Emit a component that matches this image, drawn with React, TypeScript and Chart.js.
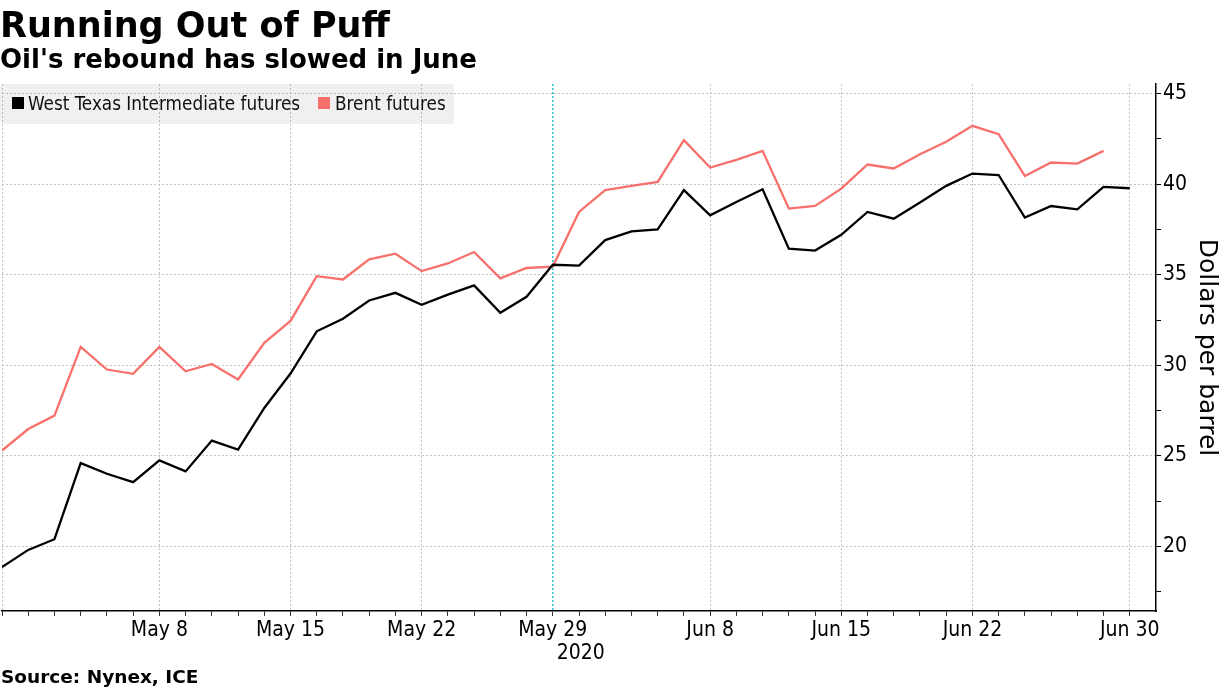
import React, { useEffect, useRef } from 'react';
import { Chart, registerables } from 'chart.js';

Chart.register(...registerables);

const dates = [
  'Apr 30', 'May 1', 'May 4', 'May 5', 'May 6', 'May 7', 'May 8',
  'May 11', 'May 12', 'May 13', 'May 14', 'May 15',
  'May 18', 'May 19', 'May 20', 'May 21', 'May 22',
  'May 25', 'May 26', 'May 27', 'May 28', 'May 29',
  'Jun 1', 'Jun 2', 'Jun 3', 'Jun 4', 'Jun 5',
  'Jun 8', 'Jun 9', 'Jun 10', 'Jun 11', 'Jun 12',
  'Jun 15', 'Jun 16', 'Jun 17', 'Jun 18', 'Jun 19',
  'Jun 22', 'Jun 23', 'Jun 24', 'Jun 25', 'Jun 26',
  'Jun 29', 'Jun 30',
];

const wti = [
  18.87, 19.82, 20.41, 24.61, 24.02, 23.56, 24.76,
  24.15, 25.85, 25.35, 27.65, 29.55,
  31.88, 32.57, 33.58, 34.0, 33.34,
  33.9, 34.41, 32.9, 33.78, 35.55,
  35.5, 36.91, 37.39, 37.5, 39.67,
  38.28, 39.01, 39.71, 36.44, 36.33,
  37.2, 38.46, 38.09, 38.98, 39.9,
  40.58, 40.5, 38.15, 38.79, 38.61,
  39.84, 39.77,
];

const brent = [
  25.3, 26.49, 27.23, 31.02, 29.77, 29.53, 31.02,
  29.67, 30.08, 29.22, 31.24, 32.45,
  34.92, 34.74, 35.85, 36.16, 35.2,
  35.62, 36.25, 34.8, 35.37, 35.45,
  38.46, 39.67, 39.9, 40.12, 42.42,
  40.91, 41.33, 41.83, 38.65, 38.79,
  39.75, 41.08, 40.86, 41.65, 42.33,
  43.21, 42.75, 40.45, 41.19, 41.13,
  41.83, null,
];

const tickDates = ['May 8', 'May 15', 'May 22', 'May 29', 'Jun 8', 'Jun 15', 'Jun 22', 'Jun 30'];
const gridDates = ['Apr 30', ...tickDates];
const markerDate = 'May 29';
const yearLabel = '2020';
const yTicks = [17.5, 20, 22.5, 25, 27.5, 30, 32.5, 35, 37.5, 40, 42.5, 45];

const TICK_FONT = 'DejaVu Sans Condensed';

export default function App() {
  const ref = useRef<HTMLCanvasElement>(null);

  useEffect(() => {
    document.body.style.margin = '0';
    const canvas = ref.current;
    if (!canvas) return;
    const markerIndex = dates.indexOf(markerDate);

    const overlay = {
      id: 'overlay',
      beforeDatasetsDraw(chart: any) {
        const { ctx, chartArea, scales } = chart;
        const px = scales.x.getPixelForValue(markerIndex);
        ctx.save();
        ctx.strokeStyle = '#27c9d2';
        ctx.lineWidth = 1.5;
        ctx.setLineDash([2, 2]);
        ctx.beginPath();
        ctx.moveTo(px, chartArea.top);
        ctx.lineTo(px, chartArea.bottom);
        ctx.stroke();
        ctx.restore();
      },
      afterDraw(chart: any) {
        const { ctx, chartArea, scales } = chart;
        const px = scales.x.getPixelForValue(markerIndex);
        ctx.save();
        ctx.fillStyle = '#000';
        ctx.font = `21px "${TICK_FONT}"`;
        ctx.textAlign = 'left';
        ctx.textBaseline = 'alphabetic';
        ctx.fillText(yearLabel, px + 4, chartArea.bottom + 48);
        ctx.restore();
      },
    };

    const chart = new Chart(canvas, {
      type: 'line',
      data: {
        datasets: [
          {
            label: 'West Texas Intermediate futures',
            data: wti.map((v, i) => ({ x: i, y: v })),
            borderColor: '#000000',
            backgroundColor: '#000000',
            borderWidth: 2.3,
            pointRadius: 0,
            tension: 0,
          },
          {
            label: 'Brent futures',
            data: brent.map((v, i) => ({ x: i, y: v })),
            borderColor: '#f7706b',
            backgroundColor: '#f7706b',
            borderWidth: 2.3,
            pointRadius: 0,
            tension: 0,
            spanGaps: false,
          },
        ],
      },
      options: {
        animation: false,
        responsive: false,
        layout: { padding: { top: 84, left: 0, right: 0, bottom: 0 } },
        plugins: {
          legend: { display: false },
          tooltip: { enabled: false },
          title: { display: false },
        },
        scales: {
          x: {
            type: 'linear',
            min: 0,
            max: 44,
            afterBuildTicks: (s: any) => {
              s.ticks = dates.map((_, i) => ({ value: i }));
            },
            afterFit: (s: any) => {
              s.height = 78;
            },
            ticks: {
              autoSkip: false,
              maxRotation: 0,
              minRotation: 0,
              padding: 2,
              color: '#000',
              font: { family: TICK_FONT, size: 21 },
              callback: (v: any) => (tickDates.includes(dates[v]) ? dates[v] : ''),
            },
            grid: {
              color: (c: any) =>
                c.tick && gridDates.includes(dates[c.tick.value]) ? '#c4c4c4' : 'rgba(0,0,0,0)',
              tickColor: '#333',
              tickLength: 5,
              lineWidth: 1,
            },
            border: { display: true, color: '#000', width: 1.5, dash: [2, 2] },
          },
          y: {
            type: 'linear',
            position: 'right',
            min: 16.45,
            max: 45.52,
            afterBuildTicks: (s: any) => {
              s.ticks = yTicks.map((v) => ({ value: v }));
            },
            afterFit: (s: any) => {
              s.width = 69;
            },
            ticks: {
              padding: 2,
              color: '#000',
              font: { family: TICK_FONT, size: 21 },
              callback: (v: any) => (v % 5 === 0 ? String(v) : ''),
            },
            grid: {
              color: (c: any) => (c.tick && c.tick.value % 5 === 0 ? '#c4c4c4' : 'rgba(0,0,0,0)'),
              tickColor: '#000',
              tickLength: 5,
              lineWidth: 1,
            },
            border: { display: true, color: '#000', width: 1.5, dash: [2, 2] },
            title: {
              display: true,
              text: 'Dollars per barrel',
              color: '#000',
              font: { family: 'DejaVu Sans', size: 25 },
              padding: { top: 4, bottom: 0 },
            },
          },
        },
      },
      plugins: [overlay],
    } as any);

    return () => chart.destroy();
  }, []);

  const abs = (extra: React.CSSProperties): React.CSSProperties => ({
    position: 'absolute',
    whiteSpace: 'nowrap',
    color: '#000',
    ...extra,
  });

  return (
    <div style={{ position: 'fixed', left: 0, top: 0, width: 1225, height: 689, overflow: 'hidden', background: '#fff' }}>
      <canvas ref={ref} width={1225} height={689} style={{ position: 'absolute', left: 0, top: 0, width: 1225, height: 689 }} />
      <div style={abs({ left: 0, top: 8, font: 'bold 35px "DejaVu Sans"', lineHeight: '35px' })}>Running Out of Puff</div>
      <div style={abs({ left: 0, top: 46, font: 'bold 26px "DejaVu Sans"', lineHeight: '26px' })}>Oil's rebound has slowed in June</div>
      <div style={abs({ left: 0, top: 84, width: 454, height: 40, background: 'rgba(0,0,0,0.06)', borderRadius: 4 })} />
      <div style={abs({ left: 12, top: 97, width: 12, height: 12, background: '#000' })} />
      <div style={abs({ left: 28, top: 95, font: `18.75px "${TICK_FONT}"`, lineHeight: '18.75px', color: '#111' })}>West Texas Intermediate futures</div>
      <div style={abs({ left: 318, top: 97, width: 12, height: 12, background: '#f7706b' })} />
      <div style={abs({ left: 335, top: 95, font: `18.75px "${TICK_FONT}"`, lineHeight: '18.75px', color: '#111' })}>Brent futures</div>
      <div style={abs({ left: 1, top: 667.5, font: 'bold 18.5px "DejaVu Sans"', lineHeight: '18.5px' })}>Source: Nynex, ICE</div>
    </div>
  );
}
